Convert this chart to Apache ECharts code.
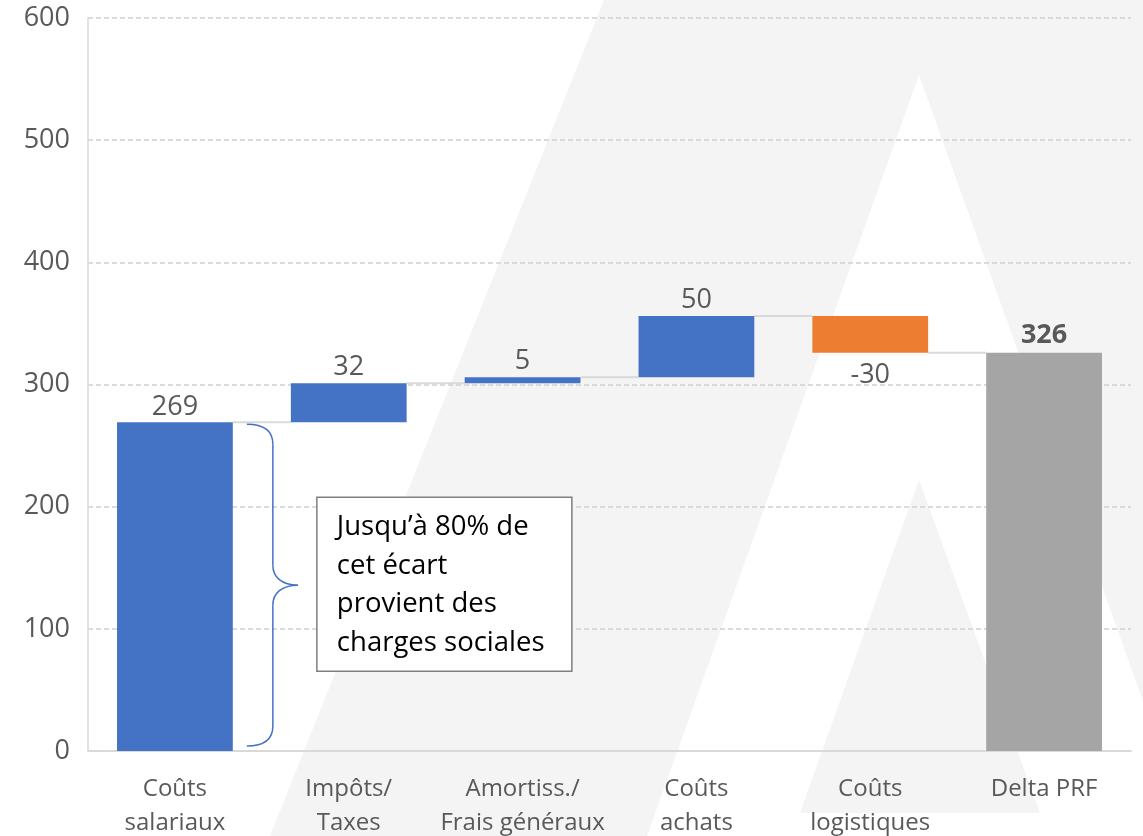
<!DOCTYPE html>
<html lang="fr">
<head>
<meta charset="utf-8">
<title>Écart de coûts – Delta PRF</title>
<script src="https://cdn.jsdelivr.net/npm/echarts@6/dist/echarts.min.js"></script>
<style>
  html, body { margin: 0; padding: 0; background: #ffffff; }
  #chart { width: 1143px; height: 836px; }
</style>
</head>
<body>
<div id="chart"></div>
<script>
// Waterfall: cost components building up to the total gap
const categories = ['Coûts\nsalariaux', 'Impôts/\nTaxes', 'Amortiss./\nFrais généraux', 'Coûts\nachats', 'Coûts\nlogistiques', 'Delta PRF'];
const values = [269, 32, 5, 50, -30, 326];
const isTotal = [false, false, false, false, false, true];
const yMin = 0;
const yMax = 600;
const yStep = 100;
const noteLines = ['Jusqu’à 80% de', 'cet écart', 'provient des', 'charges sociales'];

const COLOR_UP = '#4472c4';
const COLOR_DOWN = '#ed7d31';
const COLOR_TOTAL = '#a5a5a5';
const TEXT = '#595959';
const FONT = '"Open Sans", "Noto Sans", sans-serif';

// floating base, visible height and running level for each step
const bases = [];
const heights = [];
const levels = [];
let running = 0;
values.forEach((v, i) => {
  if (isTotal[i]) {
    bases.push(0); heights.push(v); running = v;
  } else {
    bases.push(v >= 0 ? running : running + v);
    heights.push(Math.abs(v));
    running += v;
  }
  levels.push(running);
});

const stepItems = values.map((v, i) => {
  const color = isTotal[i] ? COLOR_TOTAL : (v < 0 ? COLOR_DOWN : COLOR_UP);
  const item = { value: heights[i], itemStyle: { color: color } };
  if (v < 0) item.label = { position: 'bottom', distance: 9 };
  if (isTotal[i]) item.label = { fontWeight: 'bold', distance: 4 };
  return item;
});

const connectorData = levels.slice(0, -1).map((lv, i) => [i, lv]);

// light "A" shapes behind the plot
const backdrop = [
  { type: 'polygon', z: -10, silent: true,
    shape: { points: [[604, 0], [1143, 0], [1143, 836], [270, 836]] },
    style: { fill: '#f4f4f4' } },
  { type: 'polygon', z: -9, silent: true,
    shape: { points: [[919, 75], [647, 836], [1143, 836], [1143, 701]] },
    style: { fill: '#ffffff' } },
  { type: 'polygon', z: -8, silent: true,
    shape: { points: [[919, 480], [800, 813], [1040, 813]] },
    style: { fill: '#f4f4f4' } }
];

const chart = echarts.init(document.getElementById('chart'), null, { renderer: 'canvas' });

const option = {
  backgroundColor: '#ffffff',
  animation: false,
  textStyle: { fontFamily: FONT },
  grid: { left: 88, right: 12, top: 18, bottom: 85, containLabel: false, outerBoundsMode: 'none' },
  xAxis: {
    type: 'category',
    data: categories,
    axisTick: { show: false },
    axisLine: { lineStyle: { color: '#d9d9d9', width: 2 } },
    axisLabel: {
      interval: 0, margin: 21, color: TEXT,
      fontFamily: FONT, fontSize: 24, lineHeight: 34
    }
  },
  yAxis: {
    type: 'value',
    min: yMin, max: yMax, interval: yStep,
    axisLine: { show: true, lineStyle: { color: '#d9d9d9', width: 1.5 } },
    axisTick: { show: false },
    axisLabel: { color: TEXT, fontFamily: FONT, fontSize: 27, margin: 18 },
    splitLine: { lineStyle: { color: '#cfcfcf', width: 1.5, type: [5, 3] } }
  },
  series: [
    {
      type: 'custom',
      name: 'liaisons',
      silent: true,
      z: 1,
      data: connectorData,
      renderItem: function (params, api) {
        const i = api.value(0);
        const lv = api.value(1);
        const a = api.coord([i, lv]);
        const b = api.coord([i + 1, lv]);
        const half = api.size([1, 0])[0] / 3;
        return {
          type: 'line',
          shape: { x1: a[0] + half, y1: a[1], x2: b[0] - half, y2: b[1] },
          style: { stroke: '#d9d9d9', lineWidth: 2 }
        };
      }
    },
    {
      type: 'bar',
      name: 'base',
      stack: 'w',
      silent: true,
      barCategoryGap: '33.4%',
      itemStyle: { color: 'transparent' },
      data: bases,
      z: 2
    },
    {
      type: 'bar',
      name: 'variation',
      stack: 'w',
      barCategoryGap: '33.4%',
      data: stepItems,
      z: 3,
      label: {
        show: true,
        position: 'top',
        distance: 2,
        color: TEXT,
        fontFamily: FONT,
        fontSize: 27,
        formatter: function (p) { return String(values[p.dataIndex]); }
      }
    }
  ],
  graphic: backdrop
};

chart.setOption(option);

// brace along the first bar and the note box, placed from the axes
const c0top = chart.convertToPixel({ gridIndex: 0 }, [0, levels[0]]);
const c0bot = chart.convertToPixel({ gridIndex: 0 }, [0, 0]);
const c1 = chart.convertToPixel({ gridIndex: 0 }, [1, 0]);
const band = c1[0] - c0top[0];
const barRight = c0top[0] + band / 3;
const x0 = barRight + 14;
const xv = barRight + 40;
const xt = barRight + 65;
const yTop = c0top[1] + 2;
const yBot = c0bot[1] - 5;
const yMid = (yTop + yBot) / 2;

const braceStyle = { fill: null, stroke: COLOR_UP, lineWidth: 1.5 };
function curve(x1, y1, cpx1, cpy1, cpx2, cpy2, x2, y2) {
  return { type: 'bezierCurve', z: 50, silent: true,
    shape: { x1: x1, y1: y1, cpx1: cpx1, cpy1: cpy1, cpx2: cpx2, cpy2: cpy2, x2: x2, y2: y2 },
    style: braceStyle };
}
function seg(x1, y1, x2, y2) {
  return { type: 'line', z: 50, silent: true,
    shape: { x1: x1, y1: y1, x2: x2, y2: y2 }, style: braceStyle };
}
const brace = [
  curve(x0, yTop, x0 + 16, yTop, xv, yTop + 6, xv, yTop + 20),
  seg(xv, yTop + 20, xv, yMid - 20),
  curve(xv, yMid - 20, xv, yMid - 8, xv + 9, yMid, xt, yMid),
  curve(xt, yMid, xv + 9, yMid, xv, yMid + 8, xv, yMid + 20),
  seg(xv, yMid + 20, xv, yBot - 20),
  curve(xv, yBot - 20, xv, yBot - 6, x0 + 16, yBot, x0, yBot)
];

const boxX = xt + 19;
const boxY = yMid - 88;
const boxW = 255;
const boxH = 174;

chart.setOption({
  graphic: backdrop.concat(brace).concat([
    { type: 'rect', z: 50, silent: true,
      shape: { x: boxX, y: boxY, width: boxW, height: boxH },
      style: { fill: '#ffffff', stroke: '#7f7f7f', lineWidth: 1.5 } },
    { type: 'text', z: 51, silent: true,
      x: boxX + 20, y: boxY + 11,
      style: {
        text: noteLines.join('\n'),
        fill: '#000000',
        font: '27.5px "Open Sans", "Noto Sans", sans-serif',
        lineHeight: 38.5,
        align: 'left',
        verticalAlign: 'top'
      } }
  ])
});
</script>
</body>
</html>
